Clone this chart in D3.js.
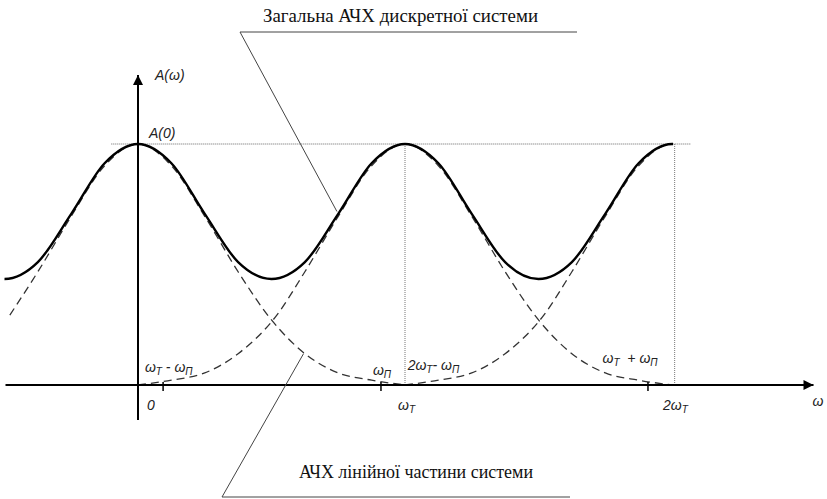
<!DOCTYPE html>
<html>
<head>
<meta charset="utf-8">
<script src="https://cdn.jsdelivr.net/npm/d3@7"></script>
<style>
  body { margin: 0; background: #fff; }
</style>
</head>
<body>
<script>
// frequency in units of ωT, amplitude relative to A(0)
const solidW = [-0.625, -0.5, -0.375, -0.25, -0.125, 0, 0.125, 0.25, 0.375, 0.5, 0.625, 0.75, 0.875, 1,
  1.125, 1.25, 1.375, 1.5, 1.625, 1.75, 1.875, 2, 2.125];
const solidA = [0.51, 0.44, 0.51, 0.71, 0.92, 1.0, 0.92, 0.71, 0.51, 0.44, 0.51, 0.71, 0.92, 1.0,
  0.92, 0.71, 0.51, 0.44, 0.51, 0.71, 0.92, 1.0, 0.92];

// one lobe of the linear-part response, repeated at 0, ωT, 2ωT
const lobeOffset = [-1, -0.875, -0.75, -0.625, -0.48, -0.375, -0.25, -0.125, 0,
  0.125, 0.25, 0.375, 0.5, 0.625, 0.75, 0.875, 1];
const lobeA = [0.0, 0.02, 0.05, 0.13, 0.29, 0.47, 0.70, 0.91, 1.0,
  0.91, 0.70, 0.47, 0.27, 0.13, 0.05, 0.02, 0.0];
const lobeCenters = [0, 1, 2];

const tickMarks = [0.094, 0.91, 1.91];
const axisLabels = [
  { w: 0.034, parts: [['0', false]] },
  { w: 0.974, parts: [['ω', false], ['T', true]] },
  { w: 1.966, parts: [['2ω', false], ['T', true]] }
];
const bandLabels = [
  { w: 0.026, a: 0.055, parts: [['ω', false], ['T', true], [' - ω', false], ['П', true]] },
  { w: 0.88, a: 0.04, parts: [['ω', false], ['П', true]] },
  { w: 1.01, a: 0.062, parts: [['2ω', false], ['T', true], ['- ω', false], ['П', true]] },
  { w: 1.74, a: 0.09, parts: [['ω', false], ['T', true], ['  + ω', false], ['П', true]] }
];

const width = 827;
const height = 499;

const x = d3.scaleLinear().domain([0, 2]).range([138, 672]);
const y = d3.scaleLinear().domain([0, 1]).range([385, 144]);
const axisEnd = 2.53;
const axisStart = -0.5;

const svg = d3.select('body')
  .append('svg')
    .attr('width', width)
    .attr('height', height);

const defs = svg.append('defs');
defs.append('marker')
    .attr('id', 'arrow')
    .attr('viewBox', '0 0 10 10')
    .attr('refX', 10)
    .attr('refY', 5)
    .attr('markerWidth', 16)
    .attr('markerHeight', 10)
    .attr('markerUnits', 'userSpaceOnUse')
    .attr('orient', 'auto')
  .append('path')
    .attr('d', 'M0,0L10,5L0,10Z')
    .attr('fill', '#000');
defs.append('clipPath')
    .attr('id', 'plotClip')
  .append('rect')
    .attr('x', x(-0.5)).attr('y', 0)
    .attr('width', x(2) - x(-0.5) + 1).attr('height', height);

// dotted guides
svg.append('line')
    .attr('x1', x(-0.1)).attr('x2', x(2.07))
    .attr('y1', y(1)).attr('y2', y(1))
    .attr('stroke', '#666').attr('stroke-width', 1).attr('stroke-dasharray', '1,1');
svg.selectAll('.vguide')
  .data([1, 2.01])
  .enter()
  .append('line')
    .attr('class', 'vguide')
    .attr('x1', d => x(d)).attr('x2', d => x(d))
    .attr('y1', y(1)).attr('y2', y(0))
    .attr('stroke', '#777').attr('stroke-width', 1).attr('stroke-dasharray', '1,1');

// dashed lobes
const line = d3.line()
  .x(d => x(d[0]))
  .y(d => y(d[1]))
  .curve(d3.curveMonotoneX);

lobeCenters.forEach(c => {
  const pts = lobeOffset
    .map((o, i) => [c + o, lobeA[i]])
    .filter(p => p[0] >= -0.5 && p[0] <= 2.2);
  svg.append('path')
    .attr('d', line(pts))
    .attr('clip-path', 'url(#plotClip)')
    .attr('fill', 'none')
    .attr('stroke', '#333')
    .attr('stroke-width', 1.3)
    .attr('stroke-dasharray', '8,5');
});

// overall response
svg.append('path')
  .attr('d', line(solidW.map((w, i) => [w, solidA[i]])))
  .attr('clip-path', 'url(#plotClip)')
  .attr('fill', 'none')
  .attr('stroke', '#000')
  .attr('stroke-width', 2.4);

// axes
svg.append('line')
    .attr('x1', x(axisStart) + 1).attr('x2', x(axisEnd))
    .attr('y1', y(0)).attr('y2', y(0))
    .attr('stroke', '#000').attr('stroke-width', 2)
    .attr('marker-end', 'url(#arrow)');
svg.append('line')
    .attr('x1', x(0)).attr('x2', x(0))
    .attr('y1', 420).attr('y2', 75)
    .attr('stroke', '#000').attr('stroke-width', 2)
    .attr('marker-end', 'url(#arrow)');

svg.selectAll('.tick')
  .data(tickMarks)
  .enter()
  .append('line')
    .attr('class', 'tick')
    .attr('x1', d => x(d)).attr('x2', d => x(d))
    .attr('y1', y(0) - 3).attr('y2', y(0) + 6)
    .attr('stroke', '#000').attr('stroke-width', 1.5);

const addLabel = (px, py, parts) => {
  const t = svg.append('text')
    .attr('x', px).attr('y', py)
    .attr('font-family', "'Liberation Sans', Arial, sans-serif")
    .attr('font-style', 'italic')
    .attr('font-size', 14)
    .attr('fill', '#222');
  parts.forEach(([s, sub], i) => {
    const sp = t.append('tspan').text(s).attr('xml:space', 'preserve');
    const prevSub = i > 0 && parts[i - 1][1];
    if (sub) sp.attr('font-size', 10).attr('dy', 3);
    else if (prevSub) sp.attr('dy', -3);
  });
  return t;
};

axisLabels.forEach(d => addLabel(x(d.w), y(0) + 25, d.parts));
bandLabels.forEach(d => addLabel(x(d.w), y(d.a), d.parts));

addLabel(x(0) + 17, 80, [['A(ω)', false]]);
addLabel(x(0) + 11, 138, [['A(0)', false]]);
addLabel(x(axisEnd) - 1, 406, [['ω', false]]);

// callouts
const noteTopEnd = [0.745, 0.72];
const noteBotEnd = [0.62, 0.13];
const serif = 'Times New Roman, Liberation Serif, serif';

svg.append('text')
    .attr('x', 263).attr('y', 22)
    .style('font-family', serif)
    .attr('font-size', 18)
    .attr('fill', '#111')
    .attr('textLength', 275)
    .attr('lengthAdjust', 'spacingAndGlyphs')
    .text('Загальна АЧХ дискретної системи');
svg.append('path')
    .attr('d', `M577,32L240,32L${x(noteTopEnd[0])},${y(noteTopEnd[1])}`)
    .attr('fill', 'none').attr('stroke', '#444').attr('stroke-width', 1);

svg.append('text')
    .attr('x', 299).attr('y', 478)
    .style('font-family', serif)
    .attr('font-size', 18)
    .attr('fill', '#111')
    .attr('textLength', 234)
    .attr('lengthAdjust', 'spacingAndGlyphs')
    .text('АЧХ лінійної частини системи');
svg.append('path')
    .attr('d', `M570,497L222,497L${x(noteBotEnd[0])},${y(noteBotEnd[1])}`)
    .attr('fill', 'none').attr('stroke', '#444').attr('stroke-width', 1);
</script>
</body>
</html>
